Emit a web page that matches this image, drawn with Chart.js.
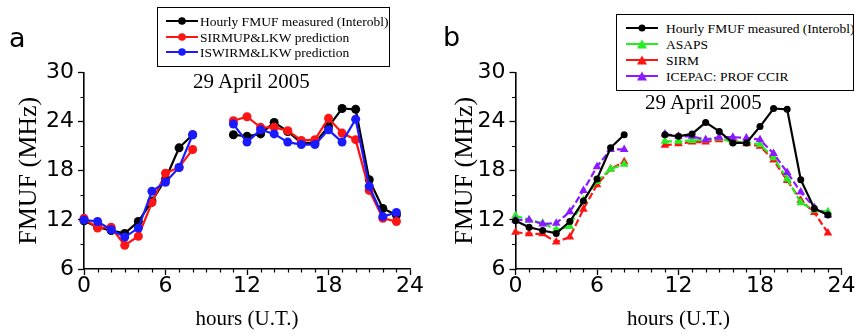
<!DOCTYPE html>
<html>
<head>
<meta charset="utf-8">
<script src="https://cdn.jsdelivr.net/npm/chart.js@4.4.1/dist/chart.umd.min.js"></script>
<style>
  body { margin: 0; background: #fff; }
  #wrap { position: relative; width: 856px; height: 336px; overflow: hidden; background: #fff; }
  canvas { position: absolute; top: 0; }
  #chartA { left: 0; }
  #chartB { left: 428px; }
  .legend { position: absolute; box-sizing: border-box; border: 1.5px solid #000; background: #fff;
            overflow: hidden; white-space: nowrap; font-family: "Liberation Serif", serif; font-size: 13.5px; color: #000; }
  .legend .row { position: absolute; left: 0; height: 14px; }
  .legend svg { position: absolute; top: 0; }
  .legend span { position: absolute; top: -1px; line-height: 16px; }
  .note { position: absolute; font-family: "Liberation Serif", serif; font-size: 20px; color: #000; white-space: nowrap;
          transform: scaleX(1.05); transform-origin: left center; }
  .panel { position: absolute; font-family: "DejaVu Sans", sans-serif; font-size: 27px; color: #000; line-height: 1; }
</style>
</head>
<body>
<div id="wrap">
  <canvas id="chartA" width="428" height="336"></canvas>
  <canvas id="chartB" width="428" height="336"></canvas>
  <div class="panel" style="left:9px;top:24px">a</div>
  <div class="panel" style="left:443px;top:23px">b</div>
  <div id="legendA" class="legend" style="left:157px;top:7px;width:233px;height:60px"></div>
  <div id="legendB" class="legend" style="left:616px;top:14px;width:238px;height:77px"></div>
  <div class="note" style="left:193px;top:70px">29 April 2005</div>
  <div class="note" style="left:645px;top:91px">29 April 2005</div>
</div>
<script>
// hours U.T., 9 and 10 have no data
const hours = [0, 1, 2, 3, 4, 5, 6, 7, 8, 9, 10, 11, 12, 13, 14, 15, 16, 17, 18, 19, 20, 21, 22, 23];

// FMUF in MHz
const measured = [11.9, 11.1, 10.7, 10.35, 11.8, 14.3, 17.0, 20.8, 22.4, null, null,
                  22.4, 22.2, 22.5, 23.9, 22.8, 21.4, 21.4, 23.4, 25.6, 25.5, 16.9, 13.4, 12.6];
const sirmup   = [12.2, 11.0, 11.1, 8.9, 10.0, 14.1, 17.7, 18.4, 20.6, null, null,
                  24.1, 24.6, 23.3, 23.3, 22.9, 21.7, 21.8, 24.4, 22.6, 21.8, 15.6, 12.2, 11.8];
const iswirm   = [12.0, 11.8, 10.8, 9.9, 11.0, 15.5, 16.6, 18.4, 22.4, null, null,
                  23.7, 21.5, 23.0, 22.5, 21.5, 21.2, 21.2, 23.0, 21.5, 24.3, 16.1, 12.4, 12.9];
const asaps    = [12.5, 12.0, 11.6, 10.8, 11.2, 14.4, 16.7, 18.2, 18.8, null, null,
                  21.6, 21.6, 21.7, 21.8, 22.0, 21.5, 21.5, 21.2, 19.6, 17.0, 14.1, 13.2, 13.0];
const sirm     = [10.5, 10.3, 10.3, 9.3, 9.9, 13.3, 16.3, 18.2, 19.1, null, null,
                  21.1, 21.3, 21.5, 21.5, 21.8, 21.7, 21.3, 21.0, 19.3, 16.8, 14.4, 12.9, 10.4];
const icepac   = [12.0, 12.0, 11.5, 11.6, 13.0, 15.6, 18.5, 20.6, 20.6, null, null,
                  22.5, 22.2, 22.2, 21.8, 22.1, 22.1, 22.0, 21.8, 20.1, 17.8, 15.4, 13.5, 12.6];

const xTicks = [0, 6, 12, 18, 24];
const yTicks = [6, 12, 18, 24, 30];

const pts = vals => hours.map((h, i) => ({ x: h, y: vals[i] }));

// small ticks between the labelled ones
const minorTicks = {
  id: 'minorTicks',
  afterDraw(chart) {
    const { ctx, chartArea, scales: { x, y } } = chart;
    ctx.save();
    ctx.strokeStyle = '#000';
    ctx.lineWidth = 1.2;
    ctx.beginPath();
    for (let h = x.min + 1; h < x.max; h++) {
      if (h % 6 === 0) continue;
      const px = Math.round(x.getPixelForValue(h)) + 0.5;
      ctx.moveTo(px, chartArea.bottom);
      ctx.lineTo(px, chartArea.bottom + 3.5);
    }
    for (let v = y.min + 3; v < y.max; v += 6) {
      const py = Math.round(y.getPixelForValue(v)) + 0.5;
      ctx.moveTo(chartArea.left, py);
      ctx.lineTo(chartArea.left - 3.5, py);
    }
    ctx.stroke();
    ctx.restore();
  }
};

function line(label, vals, color, style, radius, order, dash) {
  return {
    label: label,
    data: pts(vals),
    borderColor: color,
    backgroundColor: color,
    borderWidth: 2.2,
    borderDash: dash || [],
    pointStyle: style,
    pointRadius: radius,
    pointBorderWidth: 0,
    pointBackgroundColor: color,
    spanGaps: false,
    clip: false,
    order: order
  };
}

function makeScales(yWidth) {
  const tickFont = { family: '"DejaVu Sans", sans-serif', size: 22, lineHeight: 1 };
  const axisGrid = { display: true, drawOnChartArea: false, drawTicks: true, tickLength: 6, tickWidth: 1.3, color: '#000' };
  return {
    x: {
      type: 'linear', min: 0, max: 24,
      afterBuildTicks: s => { s.ticks = xTicks.map(v => ({ value: v })); },
      afterFit: s => { s.height = 67; },
      border: { display: true, color: '#000', width: 1.6 },
      grid: axisGrid,
      ticks: { color: '#000', font: tickFont, padding: 0, maxRotation: 0 },
      title: { display: true, text: 'hours (U.T.)', color: '#000',
               font: { family: '"Liberation Serif", serif', size: 21, lineHeight: 1.2 },
               padding: { top: 0, bottom: 4 } }
    },
    y: {
      type: 'linear', min: 6, max: 30,
      afterBuildTicks: s => { s.ticks = yTicks.map(v => ({ value: v })); },
      afterFit: s => { s.width = yWidth; },
      border: { display: true, color: '#000', width: 1.6 },
      grid: axisGrid,
      ticks: { color: '#000', font: tickFont, padding: 4 },
      title: { display: true, text: 'FMUF (MHz)', color: '#000',
               font: { family: '"Liberation Serif", serif', size: 26, lineHeight: 1.2 },
               padding: 0 }
    }
  };
}

function makeChart(id, datasets, pad, yWidth) {
  return new Chart(document.getElementById(id), {
    type: 'line',
    data: { datasets: datasets },
    options: {
      responsive: false,
      animation: false,
      layout: { padding: pad },
      plugins: { legend: { display: false }, tooltip: { enabled: false } },
      scales: makeScales(yWidth)
    },
    plugins: [minorTicks]
  });
}

const dataA = [
  line('Hourly FMUF measured (Interobl)', measured, '#000000', 'circle', 4.5, 3),
  line('SIRMUP&LKW prediction', sirmup, '#ff1414', 'circle', 4.5, 2),
  line('ISWIRM&LKW prediction', iswirm, '#1a1aff', 'circle', 4.5, 1)
];
const dataB = [
  line('Hourly FMUF measured (Interobl)', measured, '#000000', 'circle', 3.5, 1),
  line('ASAPS', asaps, '#22ee22', 'triangle', 5, 3, [7, 3]),
  line('SIRM', sirm, '#ff1414', 'triangle', 5, 4, [7, 3]),
  line('ICEPAC: PROF CCIR', icepac, '#8a1aff', 'triangle', 5, 2, [7, 3])
];

makeChart('chartA', dataA, { left: 14, top: 72.5, right: 18, bottom: 0 }, 70);
makeChart('chartB', dataB, { left: 21.5, top: 72.5, right: 14.5, bottom: 0 }, 66);

// legends built from the datasets
function buildLegend(id, datasets, first, step, lineX, textX) {
  const box = document.getElementById(id);
  datasets.forEach((ds, i) => {
    const cy = first + i * step;
    const marker = ds.pointStyle === 'triangle'
      ? `<polygon points="16,1.5 21,10.5 11,10.5" fill="${ds.borderColor}"/>`
      : `<circle cx="16" cy="6" r="${Math.min(ds.pointRadius, 3.8)}" fill="${ds.borderColor}"/>`;
    const row = document.createElement('div');
    row.className = 'row';
    row.style.top = (cy - 7) + 'px';
    row.innerHTML =
      `<svg width="32" height="14" style="left:${lineX}px"><line x1="0" y1="6" x2="32" y2="6" stroke="${ds.borderColor}" stroke-width="2"/>${marker}</svg>` +
      `<span style="left:${textX}px">${ds.label}</span>`;
    box.appendChild(row);
  });
}
buildLegend('legendA', dataA, 14, 15.5, 8, 42);
buildLegend('legendB', dataB, 13.5, 16.2, 9, 49);
</script>
</body>
</html>
